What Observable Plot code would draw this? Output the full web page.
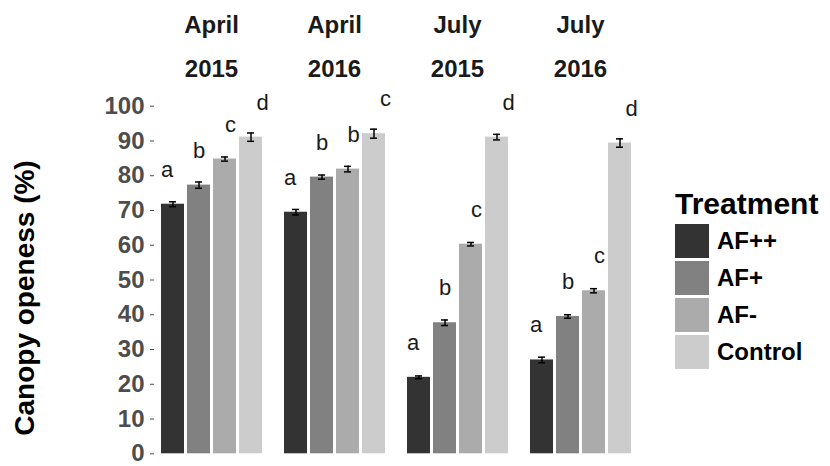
<!DOCTYPE html>
<html><head><meta charset="utf-8">
<script src="https://cdn.jsdelivr.net/npm/d3@7"></script>
<script src="https://cdn.jsdelivr.net/npm/@observablehq/plot@0.6"></script>
<style>
body{margin:0;background:#fff;font-family:Arial,"Liberation Sans",sans-serif}
#wrap{position:relative;width:830px;height:466px;overflow:hidden}
#ylab{position:absolute;left:25px;top:298px;transform:translate(-50%,-50%) rotate(-90deg);font-size:28px;font-weight:bold;color:#000;white-space:nowrap;line-height:1}
#legend{position:absolute;left:675px;top:189px;color:#000}
#legend .title{font-size:30px;font-weight:bold;line-height:30px;margin-bottom:5px}
#legend .row{display:flex;align-items:center;height:34px;margin-bottom:3px}
#legend .sw{width:34px;height:34px}
#legend .lab{margin-left:8px;font-size:24px;font-weight:bold}
</style></head><body>
<div id="wrap"><div id="chart"></div><div id="ylab"></div><div id="legend"></div></div>
<script>
const periods = ["April 2015", "April 2016", "July 2015", "July 2016"];
const months = ["April", "April", "July", "July"];
const years = ["2015", "2016", "2015", "2016"];
const treatments = ["AF++", "AF+", "AF-", "Control"];
const colors = ["#333333", "#818181", "#ababab", "#cccccc"];
// mean canopy openness per period
const afpp = [71.8, 69.5, 22.0, 27.0];
const afp = [77.3, 79.6, 37.7, 39.5];
const afm = [84.8, 81.9, 60.3, 46.9];
const control = [91.1, 92.1, 91.1, 89.4];
// standard errors
const afppSe = [0.7, 0.8, 0.4, 0.8];
const afpSe = [0.9, 0.6, 0.8, 0.5];
const afmSe = [0.6, 0.8, 0.5, 0.6];
const controlSe = [1.2, 1.3, 0.8, 1.2];
// significance letters
const afppLet = ["a", "a", "a", "a"];
const afpLet = ["b", "b", "b", "b"];
const afmLet = ["c", "b", "c", "c"];
const controlLet = ["d", "c", "d", "d"];
const yTicks = [0, 10, 20, 30, 40, 50, 60, 70, 80, 90, 100];
const yLabel = "Canopy openess (%)";
const legendTitle = "Treatment";

const series = [[afpp, afppSe, afppLet], [afp, afpSe, afpLet], [afm, afmSe, afmLet], [control, controlSe, controlLet]];
const rows = [];
periods.forEach((p, i) => {
  series.forEach(([v, s, l], j) => {
    rows.push({period: p, treatment: treatments[j], value: v[i], lo: v[i] - s[i], hi: v[i] + s[i], letter: l[i]});
  });
});
const labelRows = periods.map((p, i) => ({period: p, month: months[i], year: years[i]}));
const letterDx = [-6, 0, 5.5, 11.5];

const letterMarks = treatments.map((t, j) =>
  Plot.text(rows.filter(r => r.treatment === t), {
    fx: "period", x: "treatment", y: "value", text: "letter",
    dy: -34.5, dx: letterDx[j], fontSize: 22, fill: "#1a1a1a", lineAnchor: "middle"
  })
);

const chart = Plot.plot({
  width: 830,
  height: 466,
  marginLeft: 158,
  marginRight: 198,
  marginTop: 105.7,
  marginBottom: 12.7,
  style: {fontFamily: "Arial, 'Liberation Sans', sans-serif", background: "#fff"},
  fx: {domain: periods, paddingInner: 0.157, paddingOuter: 0, axis: null, label: null},
  x: {domain: treatments, paddingInner: 0.12, paddingOuter: 0, axis: null},
  y: {domain: [0, 100], axis: null},
  color: {domain: treatments, range: colors},
  marks: [
    Plot.barY(rows, {fx: "period", x: "treatment", y: "value", fill: "treatment"}),
    Plot.ruleX(rows, {fx: "period", x: "treatment", y1: "lo", y2: "hi", stroke: "#000", strokeWidth: 1.5}),
    Plot.tickY(rows, {fx: "period", x: "treatment", y: "lo", stroke: "#000", strokeWidth: 1.5, inset: 8}),
    Plot.tickY(rows, {fx: "period", x: "treatment", y: "hi", stroke: "#000", strokeWidth: 1.5, inset: 8}),
    ...letterMarks,
    Plot.text(labelRows, {fx: "period", text: "month", frameAnchor: "top", dy: -81, fontSize: 24, fontWeight: "bold", fill: "#1a1a1a", lineAnchor: "middle"}),
    Plot.text(labelRows, {fx: "period", text: "year", frameAnchor: "top", dy: -37, fontSize: 24, fontWeight: "bold", fill: "#1a1a1a", lineAnchor: "middle"}),
    Plot.axisY({ticks: yTicks, tickSize: 4, tickPadding: 6, dx: -5, fontSize: 24, fontWeight: "bold", color: "#4d4d4d", label: null})
  ]
});
document.getElementById("chart").appendChild(chart);
document.getElementById("ylab").textContent = yLabel;

const leg = document.getElementById("legend");
const t = document.createElement("div");
t.className = "title"; t.textContent = legendTitle; leg.appendChild(t);
treatments.forEach((tr, i) => {
  const r = document.createElement("div"); r.className = "row";
  const s = document.createElement("div"); s.className = "sw"; s.style.background = colors[i];
  const l = document.createElement("div"); l.className = "lab"; l.textContent = tr;
  r.appendChild(s); r.appendChild(l); leg.appendChild(r);
});
</script>
</body></html>
